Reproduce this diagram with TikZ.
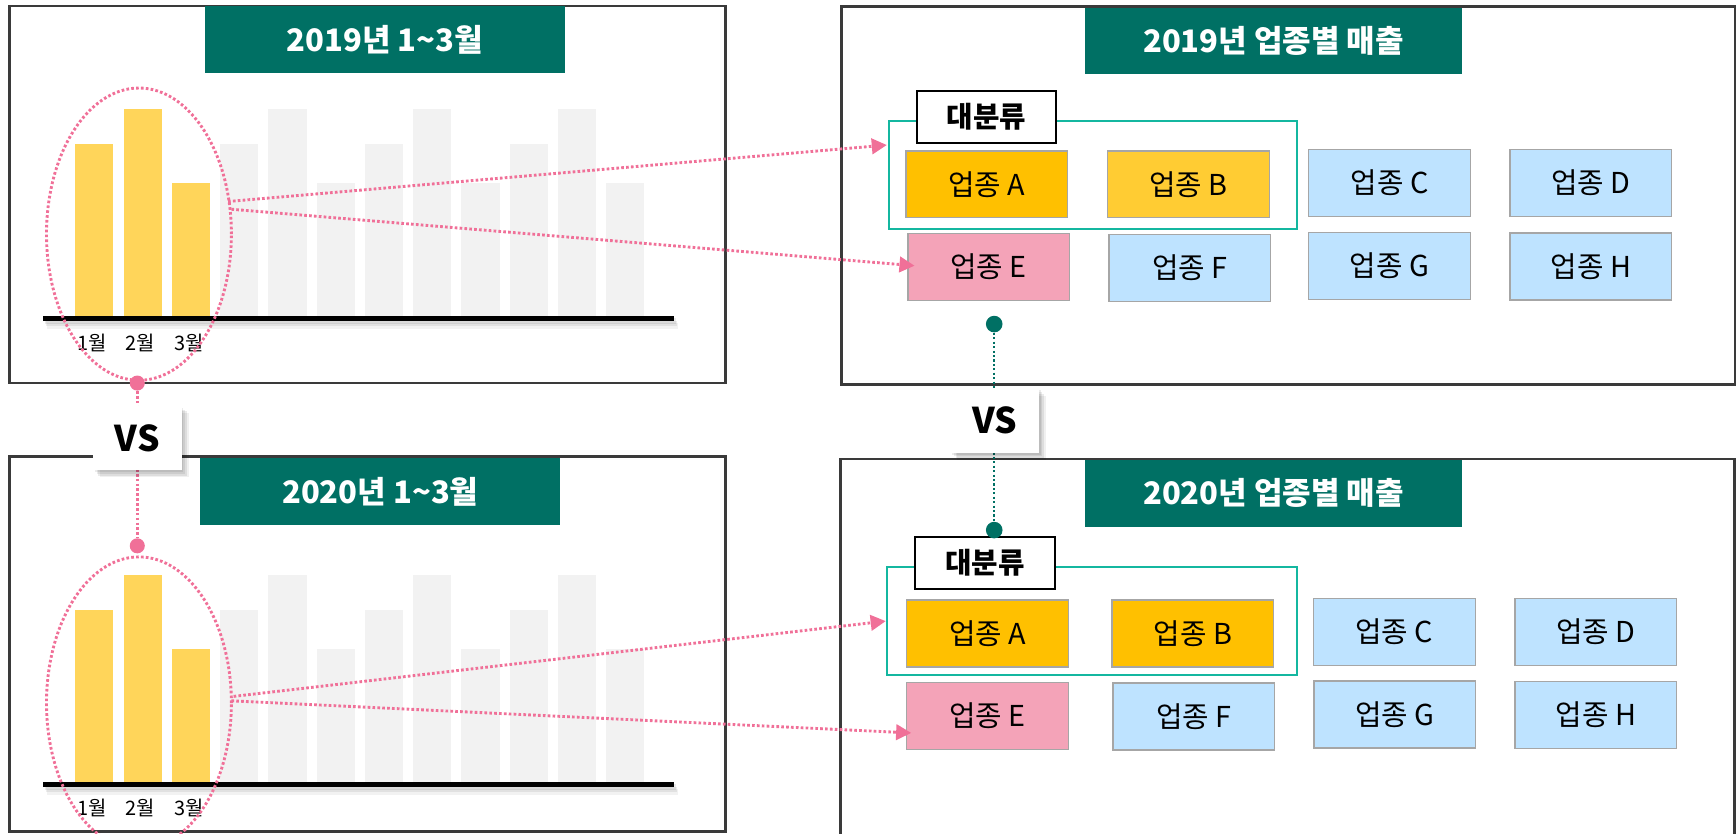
\documentclass[tikz,border=0pt]{standalone}
\usepackage{fontspec}
\setmainfont{Noto Sans CJK KR}
\usetikzlibrary{arrows.meta,shapes.geometric,shadows}
\definecolor{tealT}{RGB}{0,112,100}
\definecolor{tealG}{RGB}{20,183,160}
\definecolor{panelgray}{RGB}{58,58,58}
\definecolor{pinkL}{RGB}{240,112,152}
\definecolor{barY}{RGB}{255,213,90}
\definecolor{barG}{RGB}{242,242,242}
\definecolor{orangeA}{RGB}{255,192,0}
\definecolor{yellowB}{RGB}{255,204,51}
\definecolor{blueL}{RGB}{190,227,255}
\definecolor{pinkE}{RGB}{244,163,184}
\definecolor{boxgray}{RGB}{166,166,166}
\begin{document}
\begin{tikzpicture}[x=0.5pt,y=-0.5pt,
  panel/.style={draw=panelgray,line width=1.2pt},
  titlebox/.style={fill=tealT,text=white,inner sep=0,minimum height=30pt,font=\bfseries\fontsize{14}{16}\selectfont},
  ubox/.style={draw=boxgray,line width=0.6pt,minimum width=73pt,minimum height=30.25pt,inner sep=0,font=\fontsize{13}{15}\selectfont},
  grp/.style={draw=tealG,line width=1pt},
  catbox/.style={draw=black,fill=white,line width=0.9pt,minimum width=63pt,minimum height=23.5pt,inner sep=0,font=\bfseries\fontsize{13}{15}\selectfont},
  softshadow/.style={
     drop shadow={shadow xshift=0.8pt,shadow yshift=-0.8pt,opacity=.08,fill=black},
     drop shadow={shadow xshift=1.6pt,shadow yshift=-1.6pt,opacity=.08,fill=black},
     drop shadow={shadow xshift=2.4pt,shadow yshift=-2.4pt,opacity=.08,fill=black},
     drop shadow={shadow xshift=3.2pt,shadow yshift=-3.2pt,opacity=.06,fill=black}},
  vsbox/.style={fill=white,minimum width=40pt,minimum height=29pt,inner sep=0,font=\bfseries\fontsize{16}{18}\selectfont,softshadow},
  pinkdot/.style={draw=pinkL,line width=1.3pt,dash pattern=on 1.2pt off 1pt},
  tealdot/.style={draw=tealT,line width=1pt,dash pattern=on 1pt off 1pt},
  pinkball/.style={circle,fill=pinkL,minimum size=6.8pt,inner sep=0},
  tealball/.style={circle,fill=tealT,minimum size=7.5pt,inner sep=0},
  month/.style={inner sep=0,font=\fontsize{9}{10}\selectfont},
  ell/.style={ellipse,pinkdot,minimum width=83.5pt,minimum height=132pt,inner sep=0},
  arr/.style={pinkdot,-{Triangle[length=6.8pt,width=7pt]}}
]
\useasboundingbox (0,0) rectangle (1568,753);

% ---------- panels ----------
\draw[panel] (8.5,5.5) rectangle (655,346);
\draw[panel] (8.5,412.5) rectangle (655,751.3);
\draw[panel] (760,6) rectangle (1567.3,347);
\draw[panel] (759,414.5) rectangle (1566.5,800);

% ---------- titles ----------
\node[titlebox,minimum width=162.5pt] (tTL) at (347.5,35.6) {2019년 1\textasciitilde3월};
\node[titlebox,minimum width=162.5pt] (tBL) at (343.5,444) {2020년 1\textasciitilde3월};
\node[titlebox,minimum width=170.3pt] (tTR) at (1150.3,37) {2019년 업종별 매출};
\node[titlebox,minimum width=170.3pt] (tBR) at (1150.3,445.6) {2020년 업종별 매출};

% ---------- bar charts ----------
\foreach \off in {0,421}{
  \foreach \i/\t in {3/130,4/98.5,5/165,6/130,7/98.5,8/165,9/130,10/98.5,11/165}
    \fill[barG] ({68+43.6*\i},{\t+\off}) rectangle ++(34.5,{285-\t});
  \foreach \i/\t in {0/130,1/98.5,2/165}
    \fill[barY] ({68+43.6*\i},{\t+\off}) rectangle ++(34.5,{285-\t});
  \fill[black,
     drop shadow={shadow xshift=0.6pt,shadow yshift=-1.2pt,opacity=.08,fill=black},
     drop shadow={shadow xshift=1.2pt,shadow yshift=-2.4pt,opacity=.07,fill=black},
     drop shadow={shadow xshift=1.8pt,shadow yshift=-3.4pt,opacity=.05,fill=black}]
    (39,{285+\off}) rectangle (609,{290+\off});
}
\node[month] (m1a) at (83,310) {1월};
\node[month] (m2a) at (127,310) {2월};
\node[month] (m3a) at (171,310) {3월};
\node[month] (m1b) at (83,730) {1월};
\node[month] (m2b) at (127,730) {2월};
\node[month] (m3b) at (171,730) {3월};

% ---------- ellipses ----------
\node[ell] (e1) at (125.5,211.5) {};
\node[ell] (e2) at (125.5,635) {};

% ---------- top right boxes ----------
\draw[grp] (803,109) rectangle (1171.6,206.6);
\node[ubox,fill=orangeA] (A1) at (891.2,166.5) {업종 A};
\node[ubox,fill=yellowB] (B1) at (1073.5,166.5) {업종 B};
\node[ubox,fill=blueL] (C1) at (1255,165.4) {업종 C};
\node[ubox,fill=blueL] (D1) at (1437,165.4) {업종 D};
\node[ubox,fill=pinkE] (E1) at (893,241.2) {업종 E};
\node[ubox,fill=blueL] (F1) at (1074.6,241.9) {업종 F};
\node[ubox,fill=blueL] (G1) at (1255,240.2) {업종 G};
\node[ubox,fill=blueL] (H1) at (1437,240.6) {업종 H};
\node[catbox] (cat1) at (891.2,105.5) {대분류};

% ---------- bottom right boxes ----------
\draw[grp] (801.5,512) rectangle (1171.6,609.5);
\node[ubox,fill=orangeA] (A2) at (892,572.1) {업종 A};
\node[ubox,fill=orangeA] (B2) at (1077.4,572.1) {업종 B};
\node[ubox,fill=blueL] (C2) at (1259.4,570.8) {업종 C};
\node[ubox,fill=blueL] (D2) at (1441.4,570.8) {업종 D};
\node[ubox,fill=pinkE] (E2) at (892,646.5) {업종 E};
\node[ubox,fill=blueL] (F2) at (1078.2,647.2) {업종 F};
\node[ubox,fill=blueL] (G2) at (1259.9,645.3) {업종 G};
\node[ubox,fill=blueL] (H2) at (1441.4,645.9) {업종 H};
\node[catbox] (cat2) at (889.5,508.5) {대분류};

% ---------- pink arrows ----------
\coordinate (s1) at (206,182);  \coordinate (t1) at (801,131);
\coordinate (s2) at (209,189);  \coordinate (t2) at (826,240);
\coordinate (s3) at (211,629);  \coordinate (t3) at (800,561);
\coordinate (s4) at (209,633);  \coordinate (t4) at (823,662);
\draw[arr] (s1) -- (t1);
\draw[arr] (s2) -- (t2);
\draw[arr] (s3) -- (t3);
\draw[arr] (s4) -- (t4);

% ---------- VS connectors ----------
\node[pinkball] (p1) at (124,346) {};
\node[pinkball] (p2) at (124,493) {};
\draw[pinkdot] (p1) -- (p2);
\node[tealball] (q1) at (898,292.7) {};
\node[tealball] (q2) at (898,478.8) {};
\draw[tealdot] (q1) -- (q2);

\node[vsbox] (vs1) at (124,395.8) {VS};
\node[vsbox] (vs2) at (898.3,380) {VS};
\end{tikzpicture}
\end{document}
